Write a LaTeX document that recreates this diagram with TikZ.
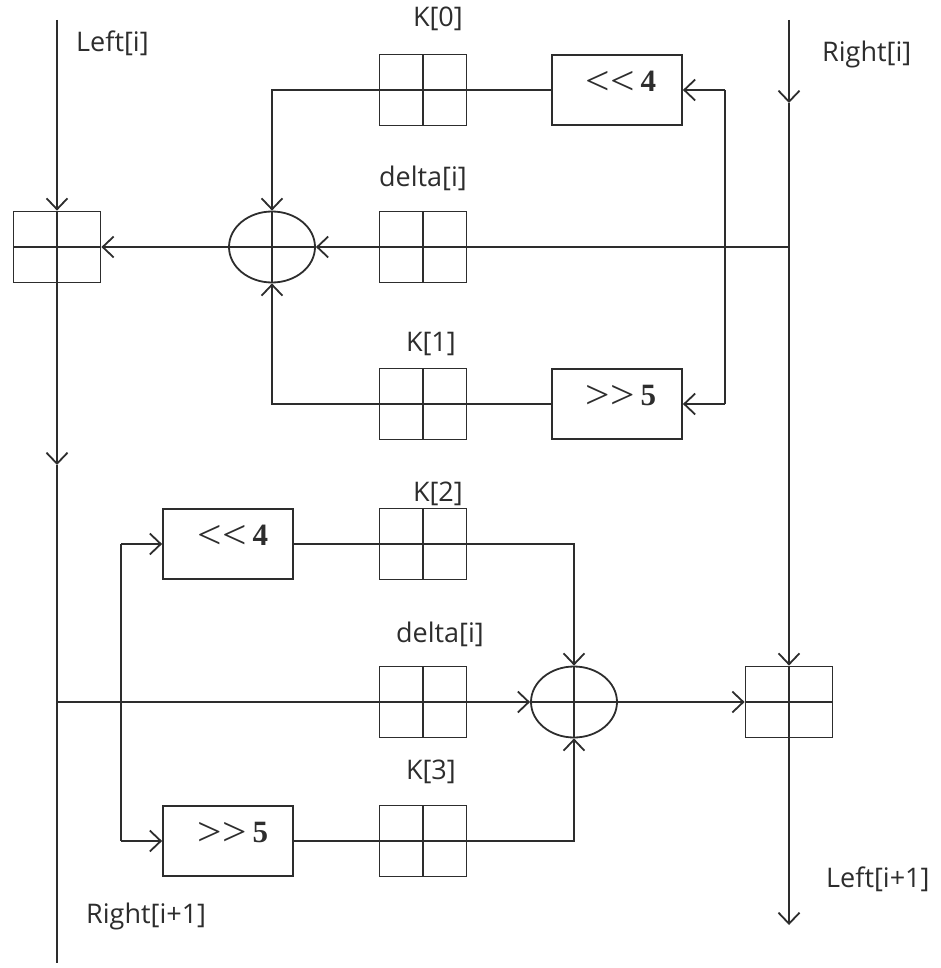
\documentclass[tikz,border=0pt]{standalone}
\usepackage{fontspec}
\setmainfont{Open Sans}
\newfontfamily\shiftfont{Liberation Serif}
\usetikzlibrary{arrows.meta,shapes.geometric,calc}
\definecolor{ink}{RGB}{45,45,45}
\newcommand{\shl}{\raisebox{-3pt}{\scalebox{1.4}[1.3]{<}\kern0pt\scalebox{1.4}[1.3]{<}}\kern6pt}
\newcommand{\shr}{\raisebox{-3pt}{\scalebox{1.4}[1.3]{>}\kern0pt\scalebox{1.4}[1.3]{>}}\kern6pt}
\tikzset{
  ln/.style={line width=1.8pt, draw=ink},
  arr/.style={ln, -{Straight Barb[length=11pt,width=21pt,line width=1.8pt]}},
  cross/.style={path picture={\draw[line width=1.8pt, ink]
      (path picture bounding box.north) -- (path picture bounding box.south)
      (path picture bounding box.west) -- (path picture bounding box.east);}},
  reg/.style={ln, rectangle, minimum width=87pt, minimum height=71pt, inner sep=0pt, cross},
  xorop/.style={ln, ellipse, minimum width=86pt, minimum height=71pt, inner sep=0pt, cross},
  shiftbox/.style={ln, rectangle, minimum width=130pt, minimum height=70pt, inner sep=0pt},
  shiftlab/.style={font=\shiftfont\fontsize{31}{31}\selectfont, text=ink, inner sep=0pt},
  lab/.style={font=\fontsize{27}{27}\selectfont, text=ink, inner sep=0pt},
}
\begin{document}
\begin{tikzpicture}[x=1pt,y=-1pt]
\useasboundingbox (0,0) rectangle (940,968);
% upper round
\node[reg] (L) at (57,247) {};
\node[xorop] (X1) at (272,247) {};
\node[reg] (K0) at (423,90) {};
\node[reg] (D1) at (423,247) {};
\node[reg] (K1) at (423,404) {};
\node[shiftbox] (SL1) at (617,90) {};
\node[shiftlab] (SL1t) at (621,83) {\shl\textbf{4}};
\node[shiftbox] (SR1) at (617,404) {};
\node[shiftlab] (SR1t) at (621,397) {\shr\textbf{5}};
% lower round
\node[shiftbox] (SL2) at (228,544) {};
\node[shiftlab] (SL2t) at (233,537) {\shl\textbf{4}};
\node[reg] (K2) at (423,544) {};
\node[reg] (D2) at (423,702) {};
\node[reg] (K3) at (423,841) {};
\node[shiftbox] (SR2) at (228,841) {};
\node[shiftlab] (SR2t) at (233,834) {\shr\textbf{5}};
\node[xorop] (X2) at (574,702) {};
\node[reg] (R) at (789,702) {};
% coordinates
\coordinate (Ltop) at (57,20);
\coordinate (Lmid) at (57,465);
\coordinate (Lend) at (57,963);
\coordinate (Ljoin) at (57,702);
\coordinate (Rtop) at (789,20);
\coordinate (Rmid) at (789,103);
\coordinate (Rjoin) at (789,247);
\coordinate (Rend) at (789,925);
\coordinate (FB1) at (725,90);
\coordinate (FB2) at (725,404);
\coordinate (FC1) at (121,544);
\coordinate (FC2) at (121,841);
% labels
\node[lab, anchor=base west] (tLi) at (76,52) {Left[i]};
\node[lab, anchor=base west] (tRi) at (822,62) {Right[i]};
\node[lab, anchor=base east] (tK0) at (463,27) {K[0]};
\node[lab, anchor=base east] (tD1) at (467,187) {delta[i]};
\node[lab, anchor=base east] (tK1) at (456,351) {K[1]};
\node[lab, anchor=base east] (tK2) at (463,501) {K[2]};
\node[lab, anchor=base east] (tD2) at (484,642) {delta[i]};
\node[lab, anchor=base east] (tK3) at (456,779) {K[3]};
\node[lab, anchor=base west] (tRi1) at (86,923) {Right[i+1]};
\node[lab, anchor=base west] (tLi1) at (826,887) {Left[i+1]};
% left line
\draw[arr] (Ltop) -- (L.north);
\draw[arr] (L.south) -- (Lmid);
\draw[ln] (Lmid) -- (Lend);
% right line
\draw[arr] (Rtop) -- (Rmid);
\draw[arr] (Rmid) -- (R.north);
\draw[arr] (R.south) -- (Rend);
% upper connections
\draw[ln] (Rjoin) -- (D1.east);
\draw[arr] (D1.west) -- (X1.east);
\draw[arr] (X1.west) -- (L.east);
\draw[ln] (SL1.west) -- (K0.east);
\draw[arr] (K0.west) -| (X1.north);
\draw[ln] (SR1.west) -- (K1.east);
\draw[arr] (K1.west) -| (X1.south);
\draw[ln] (FB1) -- (FB2);
\draw[arr] (FB1) -- (SL1.east);
\draw[arr] (FB2) -- (SR1.east);
% lower connections
\draw[ln] (Ljoin) -- (D2.west);
\draw[arr] (D2.east) -- (X2.west);
\draw[arr] (X2.east) -- (R.west);
\draw[ln] (FC1) -- (FC2);
\draw[arr] (FC1) -- (SL2.west);
\draw[arr] (FC2) -- (SR2.west);
\draw[ln] (SL2.east) -- (K2.west);
\draw[arr] (K2.east) -| (X2.north);
\draw[ln] (SR2.east) -- (K3.west);
\draw[arr] (K3.east) -| (X2.south);
\end{tikzpicture}
\end{document}
